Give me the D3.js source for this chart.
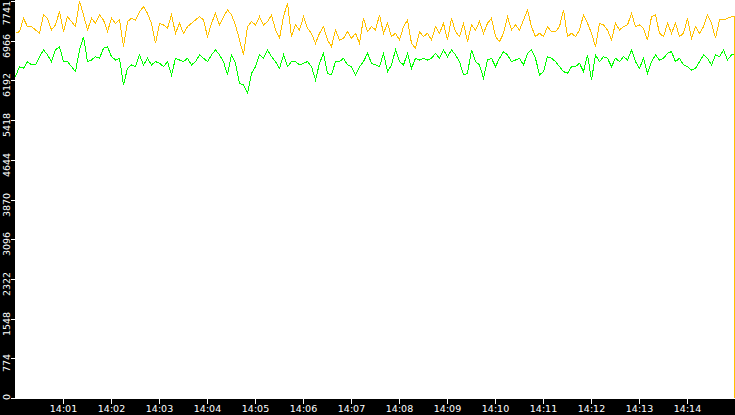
<!DOCTYPE html>
<html><head><meta charset="utf-8">
<script src="https://cdn.jsdelivr.net/npm/d3@7"></script>
<style>html,body{margin:0;padding:0;background:#fff;overflow:hidden}</style>
</head><body>
<svg id="chart" width="735" height="415"></svg>
<script>
// ---- data ----
const startTime = "14:00:00";
const endTime = "14:15:00";
const stepSeconds = 5;
const lastTime = "14:14:59";
const lastValue = 0;
const yMax = 7741;
const yTickLabels = ["0","774","1548","2322","3096","3870","4644","5418","6192","6966","7741"];
const xTickLabels = ["14:01","14:02","14:03","14:04","14:05","14:06","14:07","14:08","14:09","14:10","14:11","14:12","14:13","14:14"];

const yellowSeries = [
7111,7144,7404,7241,7241,7176,7111,7469,7404,7176,7274,7534,7144,7436,7339,7241,7741,7469,7176,7404,7306,7469,7371,7144,7404,7306,7371,6851,7339,7404,
7371,7534,7631,7501,7306,6916,7306,7274,7209,7469,7111,7306,7111,7241,7306,7371,7436,7371,7046,7306,7501,7274,7436,7566,7469,7274,6981,6689,7241,7339,
7274,7436,7274,7339,7469,7176,7014,7436,7700,7046,7274,7176,7436,7209,7111,6916,7111,7241,6981,6851,7176,6981,7014,7144,7014,7111,6916,7404,7144,7241,
7176,7469,7111,7306,7046,7111,6981,7241,7371,6916,6819,7144,7046,7111,6981,7241,7111,7306,6981,7404,7144,7046,7306,6949,7274,7176,7339,7111,7306,7404,
7046,6949,7111,7436,7176,7274,7176,7371,7566,7241,7046,7111,7046,7241,7144,7144,7241,7566,7046,7111,7046,7176,7469,7306,7111,6851,7306,7274,7176,6981,
7306,7176,7241,7274,7501,7241,7274,7209,6981,7436,7469,7111,7046,7306,7111,7306,7046,7111,7404,7014,7241,7111,7241,7469,7306,7014,7371,7371,7404,7436
];
const greenSeries = [
6266,6461,6429,6559,6494,6494,6656,6786,6689,6559,6786,6851,6559,6559,6461,6364,6786,7040,6559,6591,6656,6624,6819,6851,6656,6591,6624,6104,6429,6494,
6461,6689,6494,6624,6494,6559,6526,6461,6559,6299,6624,6591,6559,6624,6494,6559,6689,6624,6559,6689,6786,6689,6559,6299,6689,6526,6136,6104,5941,6331,
6461,6689,6624,6786,6656,6559,6429,6689,6461,6559,6559,6494,6526,6559,6461,6201,6526,6721,6331,6299,6559,6559,6624,6494,6461,6299,6461,6559,6721,6526,
6494,6461,6721,6364,6494,6786,6559,6494,6721,6429,6624,6591,6624,6591,6624,6721,6624,6786,6656,6786,6689,6559,6299,6331,6786,6559,6494,6234,6591,6624,
6461,6624,6754,6689,6559,6591,6624,6494,6721,6786,6624,6299,6364,6656,6624,6559,6461,6364,6331,6461,6461,6526,6364,6689,6201,6689,6559,6656,6624,6461,
6624,6559,6656,6591,6786,6559,6429,6624,6331,6559,6689,6591,6624,6721,6754,6559,6624,6494,6461,6396,6429,6559,6689,6624,6494,6689,6656,6786,6591,6689
];

// ---- chart ----
const W = 735, H = 415, left = 15, axisTop = 399;
const parse = d3.timeParse("%H:%M:%S");
const t0 = parse(startTime);
const x = d3.scaleTime().domain([t0, parse(endTime)]).range([left, W]);
const y = d3.scaleLinear().domain([0, yMax]).range([398, 1]);
const svg = d3.select("#chart");

function toPoints(vals) {
  const pts = vals.map((v, i) => ({t: new Date(t0.getTime() + i * stepSeconds * 1000), v}));
  // hold the final reading until the end time, then drop to the last value
  pts.push({t: parse(lastTime), v: vals[vals.length - 1]});
  pts.push({t: parse(lastTime), v: lastValue});
  return pts;
}
const line = d3.line().x(d => Math.round(x(d.t)) + 0.5).y(d => y(d.v));

svg.append("rect").attr("x",0).attr("y",0).attr("width",W).attr("height",H).attr("fill","#fff");

svg.append("path").datum(toPoints(greenSeries))
  .attr("d", line).attr("fill","none").attr("stroke","#00ff00").attr("stroke-width",1)
  .attr("shape-rendering","crispEdges");
svg.append("path").datum(toPoints(yellowSeries))
  .attr("d", line).attr("fill","none").attr("stroke","#ffc000").attr("stroke-width",1)
  .attr("shape-rendering","crispEdges");

// axis strips
svg.append("rect").attr("x",0).attr("y",0).attr("width",left).attr("height",H).attr("fill","#000");
svg.append("rect").attr("x",0).attr("y",axisTop).attr("width",W).attr("height",H-axisTop).attr("fill","#000");

// y axis ticks + labels
const yg = svg.append("g");
yTickLabels.forEach(lbl => {
  const ty = Math.round(y(+lbl));
  yg.append("line").attr("x1",11).attr("x2",15).attr("y1",ty+0.5).attr("y2",ty+0.5)
    .attr("stroke","#fff").attr("stroke-width",1).attr("shape-rendering","crispEdges");
  const txt = yg.append("text").text(lbl)
    .attr("fill","#fff").attr("font-family","DejaVu Sans").attr("font-size","9.5px")
    .attr("text-anchor","middle");
  const len = txt.node().getComputedTextLength();
  let cy = ty + 5;
  cy = Math.max(len/2 + 1, Math.min(400 - len/2, cy));
  txt.attr("transform", `translate(10,${cy}) rotate(-90)`);
});

// x axis ticks + labels
const xg = svg.append("g");
xTickLabels.forEach(lbl => {
  const tx = Math.round(x(parse(lbl + ":00")));
  xg.append("line").attr("x1",tx+0.5).attr("x2",tx+0.5).attr("y1",399).attr("y2",404)
    .attr("stroke","#fff").attr("stroke-width",1).attr("shape-rendering","crispEdges");
  xg.append("text").text(lbl).attr("x",tx+0.5).attr("y",412)
    .attr("fill","#fff").attr("font-family","DejaVu Sans").attr("font-size","9.5px")
    .attr("text-anchor","middle");
});
</script>
</body></html>
